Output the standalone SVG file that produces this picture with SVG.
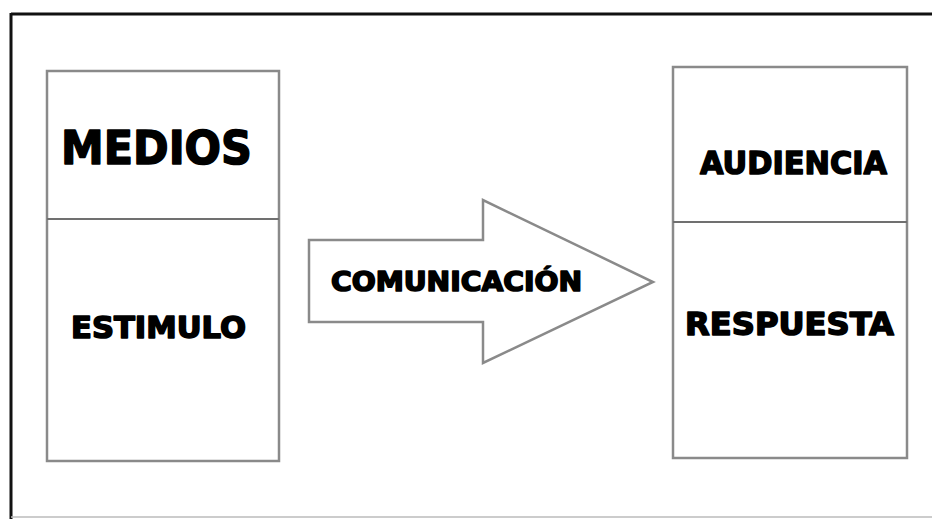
<svg xmlns="http://www.w3.org/2000/svg" width="932" height="519" viewBox="0 0 932 519">
<style>
.box{fill:#fff;stroke:#8a8a8a;stroke-width:2.5}
.div{stroke:#707070;stroke-width:2}
.lbl{font-family:"DejaVu Sans","Liberation Sans",sans-serif;font-weight:bold;fill:#000;stroke:#000;stroke-width:1.6;stroke-linejoin:round}
</style>
<rect width="932" height="519" fill="#fff"/>
<g id="frame">
<line x1="11" y1="14" x2="932" y2="14" stroke="#111" stroke-width="3"/>
<line x1="11" y1="13" x2="11" y2="519" stroke="#111" stroke-width="3"/>
<line x1="11" y1="517" x2="932" y2="517" stroke="#bbb" stroke-width="1.5"/>
</g>
<g id="medios">
<rect class="box" x="47" y="71" width="232" height="390"/>
<line class="div" x1="47" y1="219" x2="279" y2="219"/>
<text class="lbl" x="61" y="164" font-size="47" stroke-width="2.6" textLength="191" lengthAdjust="spacingAndGlyphs">MEDIOS</text>
<text class="lbl" x="71" y="338" font-size="30" textLength="175" lengthAdjust="spacingAndGlyphs">ESTIMULO</text>
</g>
<g id="connectors">
<polygon points="309,240 483,240 483,200 653,282 483,363 483,322 309,322" fill="#fff" stroke="#8a8a8a" stroke-width="2.5" stroke-linejoin="miter"/>
<text class="lbl" x="331" y="291" font-size="26" textLength="251" lengthAdjust="spacingAndGlyphs">COMUNICACIÓN</text>
</g>
<g id="audiencia">
<rect class="box" x="673" y="67" width="234" height="391"/>
<line class="div" x1="673" y1="222" x2="907" y2="222"/>
<text class="lbl" x="700" y="174" font-size="32" textLength="187" lengthAdjust="spacingAndGlyphs">AUDIENCIA</text>
<text class="lbl" x="685" y="335" font-size="32" textLength="209" lengthAdjust="spacingAndGlyphs">RESPUESTA</text>
</g>
</svg>
